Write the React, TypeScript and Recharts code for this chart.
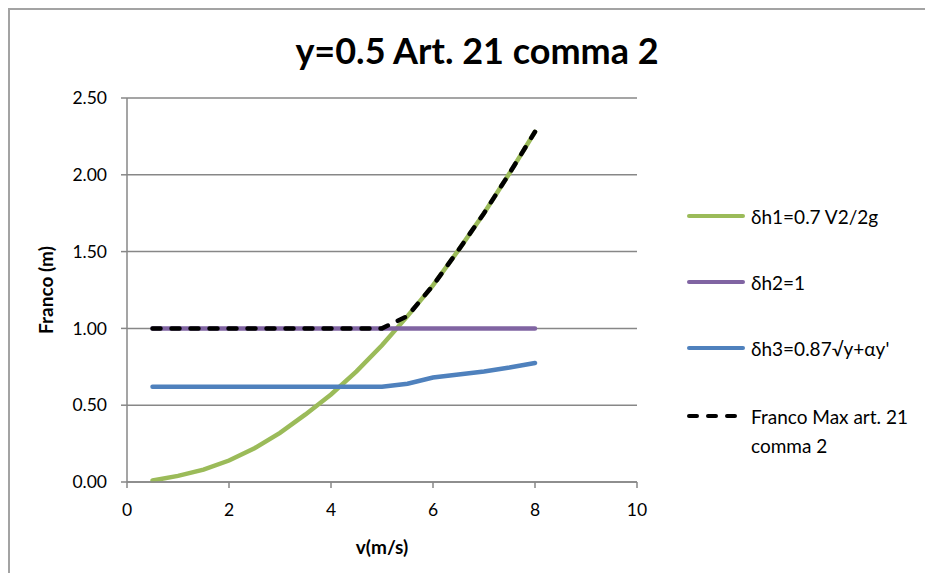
import React from 'react';
import { LineChart, Line, XAxis, YAxis, CartesianGrid, Label } from 'recharts';

// velocità (m/s)
const velocity = [0.5, 1, 1.5, 2, 2.5, 3, 3.5, 4, 4.5, 5, 5.5, 6, 6.5, 7, 7.5, 8];

// franco (m) per ciascun criterio
const dh1 = [0.01, 0.04, 0.08, 0.14, 0.22, 0.32, 0.44, 0.57, 0.72, 0.89, 1.08, 1.28, 1.51, 1.75, 2.01, 2.28];
const dh2 = [1, 1, 1, 1, 1, 1, 1, 1, 1, 1, 1, 1, 1, 1, 1, 1];
const dh3 = [0.62, 0.62, 0.62, 0.62, 0.62, 0.62, 0.62, 0.62, 0.62, 0.62, 0.64, 0.68, 0.7, 0.72, 0.745, 0.775];
const francoMax = [1, 1, 1, 1, 1, 1, 1, 1, 1, 1, 1.08, 1.28, 1.51, 1.75, 2.01, 2.28];

const xTicks = [0, 2, 4, 6, 8, 10];
const yTicks = [0, 0.5, 1, 1.5, 2, 2.5];

const series = [
  { key: 'dh1', name: 'δh1=0.7 V2/2g', color: '#9BBB59', dashed: false },
  { key: 'dh2', name: 'δh2=1', color: '#8064A2', dashed: false },
  { key: 'dh3', name: 'δh3=0.87√y+αy\'', color: '#4F81BD', dashed: false },
  { key: 'francoMax', name: 'Franco Max art. 21 comma 2', color: '#000000', dashed: true },
];

const data = velocity.map((v, i) => ({
  v,
  dh1: dh1[i],
  dh2: dh2[i],
  dh3: dh3[i],
  francoMax: francoMax[i],
}));

const FONT = 'Lato, "Open Sans", sans-serif';
const AXIS = '#878787';
const DASH = '8 11';

const LegendBlock = () => {
  const rows = [216, 282, 348, 416];
  return (
    <svg width={230} height={290} style={{ position: 'absolute', left: 676, top: 180 }}>
      {series.map((s, i) => {
        const y = rows[i] - 190;
        return (
          <g key={s.key}>
            <line
              x1={3}
              x2={57}
              y1={y}
              y2={y}
              stroke={s.color}
              strokeWidth={4}
              strokeLinecap="round"
              strokeDasharray={s.dashed ? DASH : undefined}
            />
            {s.key === 'francoMax' ? (
              <text x={65} y={y} fontFamily={FONT} fontSize={19} fill="#000" dominantBaseline="central">
                <tspan x={65}>Franco Max art. 21</tspan>
                <tspan x={65} dy={29}>comma 2</tspan>
              </text>
            ) : (
              <text x={65} y={y} fontFamily={FONT} fontSize={19} fill="#000" dominantBaseline="central">
                {s.name}
              </text>
            )}
          </g>
        );
      })}
    </svg>
  );
};

export default function App() {
  return (
    <div
      style={{
        position: 'relative',
        width: 917,
        height: 565,
        borderTop: '2px solid #a3a3a3',
        borderLeft: '2px solid #a3a3a3',
        boxSizing: 'border-box',
        background: '#fff',
      }}
    >
      <div
        style={{
          position: 'absolute',
          left: 0,
          top: 18,
          width: 934,
          textAlign: 'center',
          fontFamily: FONT,
          fontWeight: 700,
          fontSize: 36,
          color: '#000',
        }}
      >
        y=0.5 Art. 21 comma 2
      </div>
      <LineChart
        width={915}
        height={563}
        data={data}
        margin={{ top: 88, right: 288, left: 27, bottom: 13 }}
        style={{ position: 'absolute', left: 0, top: 0 }}
      >
        <CartesianGrid vertical={false} stroke={AXIS} strokeWidth={1.5} />
        <XAxis
          dataKey="v"
          type="number"
          domain={[0, 10]}
          ticks={xTicks}
          height={78}
          stroke={AXIS}
          strokeWidth={1.5}
          tickSize={6}
          tickMargin={16}
          tick={{ fill: '#000', fontSize: 17.5, fontFamily: FONT }}
        >
          <Label
            content={({ viewBox }: any) => (
              <text
                x={viewBox.x + viewBox.width / 2}
                y={viewBox.y + 64}
                textAnchor="middle"
                dominantBaseline="central"
                fontFamily={FONT}
                fontWeight={700}
                fontSize={19}
                fill="#000"
              >
                v(m/s)
              </text>
            )}
          />
        </XAxis>
        <YAxis
          type="number"
          domain={[0, 2.5]}
          ticks={yTicks}
          width={90}
          stroke={AXIS}
          strokeWidth={1.5}
          tickSize={6}
          tickMargin={14}
          tickFormatter={(t: number) => t.toFixed(2)}
          tick={{ fill: '#000', fontSize: 17.5, fontFamily: FONT }}
        >
          <Label
            content={({ viewBox }: any) => {
              const cx = viewBox.x + 8;
              const cy = viewBox.y + viewBox.height / 2;
              return (
                <text
                  x={cx}
                  y={cy}
                  transform={`rotate(-90 ${cx} ${cy})`}
                  textAnchor="middle"
                  dominantBaseline="central"
                  fontFamily={FONT}
                  fontWeight={700}
                  fontSize={19}
                  fill="#000"
                >
                  Franco (m)
                </text>
              );
            }}
          />
        </YAxis>
        {series.map((s) => (
          <Line
            key={s.key}
            dataKey={s.key}
            name={s.name}
            type="linear"
            stroke={s.color}
            strokeWidth={4.5}
            strokeLinecap="round"
            strokeDasharray={s.dashed ? DASH : undefined}
            dot={false}
            activeDot={false}
            isAnimationActive={false}
          />
        ))}
      </LineChart>
      <LegendBlock />
    </div>
  );
}
